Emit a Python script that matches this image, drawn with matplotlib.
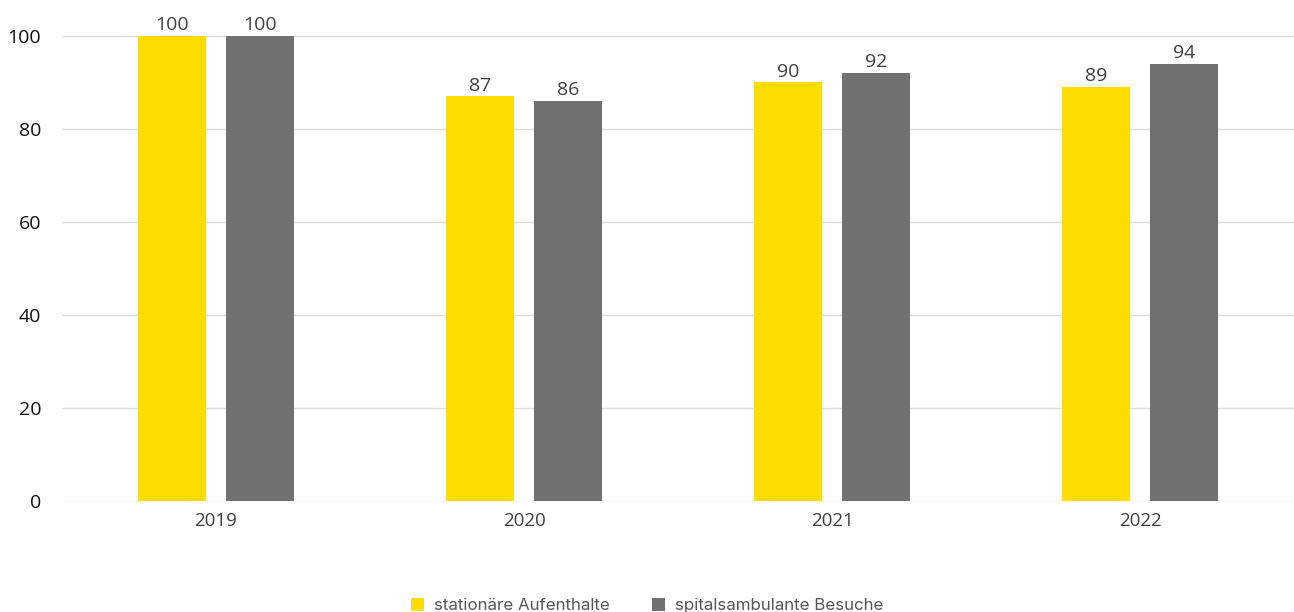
import numpy as np
import matplotlib
matplotlib.use("Agg")
import matplotlib.pyplot as plt

years = ["2019", "2020", "2021", "2022"]
stationaer = [100, 87, 90, 89]
ambulant = [100, 86, 92, 94]
labels = ["stationäre Aufenthalte", "spitalsambulante Besuche"]

yellow = "#FFDD00"
grey = "#717171"

fig = plt.figure(figsize=(12.94, 6.12), dpi=100)
ax = fig.add_axes([62 / 1294, 111 / 612, 1 - 62 / 1294, 465 / 612])

x = np.arange(len(years)) + 0.5
w = 0.222
off = 0.143

b1 = ax.bar(x - off, stationaer, w, color=yellow, label=labels[0], zorder=2)
b2 = ax.bar(x + off, ambulant, w, color=grey, label=labels[1], zorder=2)

for bars, vals in ((b1, stationaer), (b2, ambulant)):
    for r, v in zip(bars, vals):
        ax.text(r.get_x() + r.get_width() / 2, v + 0.4, str(v), ha="center", va="bottom",
                fontsize=14, color="#404040", family="Open Sans")

ax.set_xlim(0, 4)
ax.set_ylim(0, 100)
ax.set_yticks([0, 20, 40, 60, 80, 100])
ax.set_xticks(x)
ax.set_xticklabels(years, fontsize=13.5, color="#404040", family="Open Sans")
for t in ax.get_yticklabels():
    t.set_fontsize(14)
    t.set_family("Open Sans")
    t.set_color("#111111")
ax.tick_params(length=0, pad=8)
ax.tick_params(axis="y", pad=15)
ax.grid(axis="y", color="#dcdcdc", linewidth=1, zorder=0)
for s in ax.spines.values():
    s.set_visible(False)

fig.legend(handles=[b1, b2], labels=labels, loc="lower center", ncol=2,
           bbox_to_anchor=(0.5, -0.027), frameon=False, handlelength=0.75, handleheight=0.75,
           handletextpad=0.6, columnspacing=2.5, prop={"family": "Inter", "size": 12.2},
           labelcolor="#555555")

fig.savefig("out.png", dpi=100)
